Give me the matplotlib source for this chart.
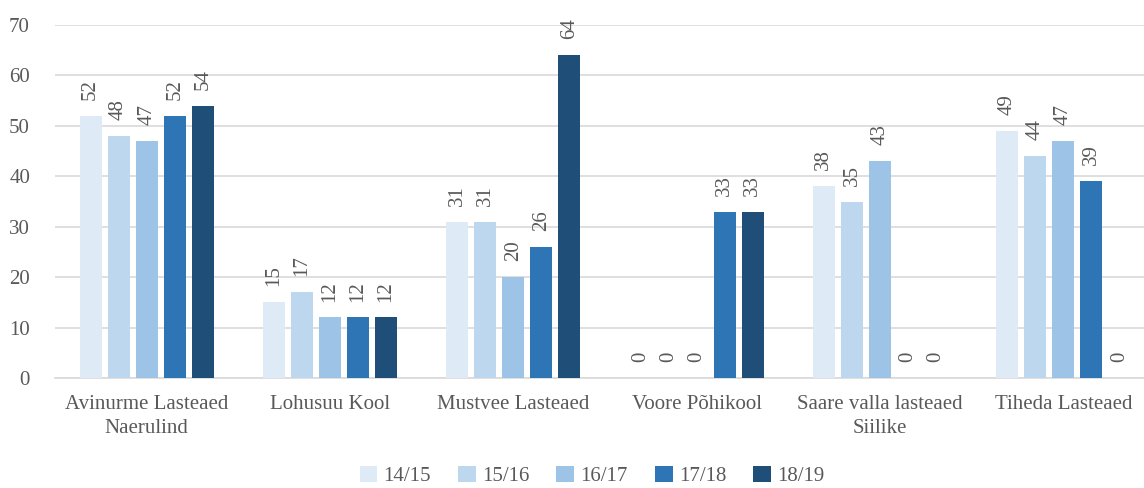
import matplotlib
matplotlib.use("Agg")
import matplotlib.pyplot as plt
import numpy as np

categories = ["Avinurme Lasteaed\nNaerulind", "Lohusuu Kool", "Mustvee Lasteaed",
              "Voore Põhikool", "Saare valla lasteaed\nSiilike", "Tiheda Lasteaed"]
series_names = ["14/15", "15/16", "16/17", "17/18", "18/19"]
s1415 = [52, 15, 31, 0, 38, 49]
s1516 = [48, 17, 31, 0, 35, 44]
s1617 = [47, 12, 20, 0, 43, 47]
s1718 = [52, 12, 26, 33, 0, 39]
s1819 = [54, 12, 64, 33, 0, 0]
series = [s1415, s1516, s1617, s1718, s1819]
colors = ["#DEEBF7", "#BDD7EE", "#9DC3E6", "#2E75B6", "#1F4E79"]

plt.rcParams['font.family'] = ['Liberation Serif', 'DejaVu Serif']
text_color = "#595959"
fs = 15

fig = plt.figure(figsize=(11.44, 4.88), dpi=100)
ax = fig.add_axes([55/1144, 1 - 378/488, 1100/1144, 353/488])

x = np.arange(len(categories))
step = 0.153
bw = 0.12
for i, (vals, c, name) in enumerate(zip(series, colors, series_names)):
    pos = x + (i - 2) * step
    ax.bar(pos, vals, width=bw, color=c, label=name, zorder=3)
    for p, v in zip(pos, vals):
        ax.annotate(f"{v}", (p, v), xytext=(0, 11.5), textcoords="offset points",
                    rotation=90, ha="center", va="bottom",
                    fontsize=fs, color=text_color)

ax.set_xlim(-0.5, 5.5)
ax.set_ylim(0, 70)
ax.set_yticks(range(0, 71, 10))
ax.yaxis.grid(True, color="#D9D9D9", linewidth=1.2, zorder=0)
ax.set_axisbelow(True)
for s in ["top", "right", "left"]:
    ax.spines[s].set_visible(False)
ax.spines["bottom"].set_color("#D9D9D9")
ax.spines["bottom"].set_linewidth(1.2)
ax.tick_params(axis="both", length=0, labelsize=fs, colors=text_color)
ax.tick_params(axis="y", pad=18)
ax.tick_params(axis="x", pad=12)
ax.set_xticks(x)
ax.set_xticklabels(categories, linespacing=1.35)

leg = fig.legend(loc="center", bbox_to_anchor=(592/1144, 1 - 476/488), ncol=5,
                 frameon=False, fontsize=fs, handlelength=0.85, handleheight=0.85,
                 handletextpad=0.3, columnspacing=1.3)
for t in leg.get_texts():
    t.set_color(text_color)

fig.savefig("out.png", dpi=100)
